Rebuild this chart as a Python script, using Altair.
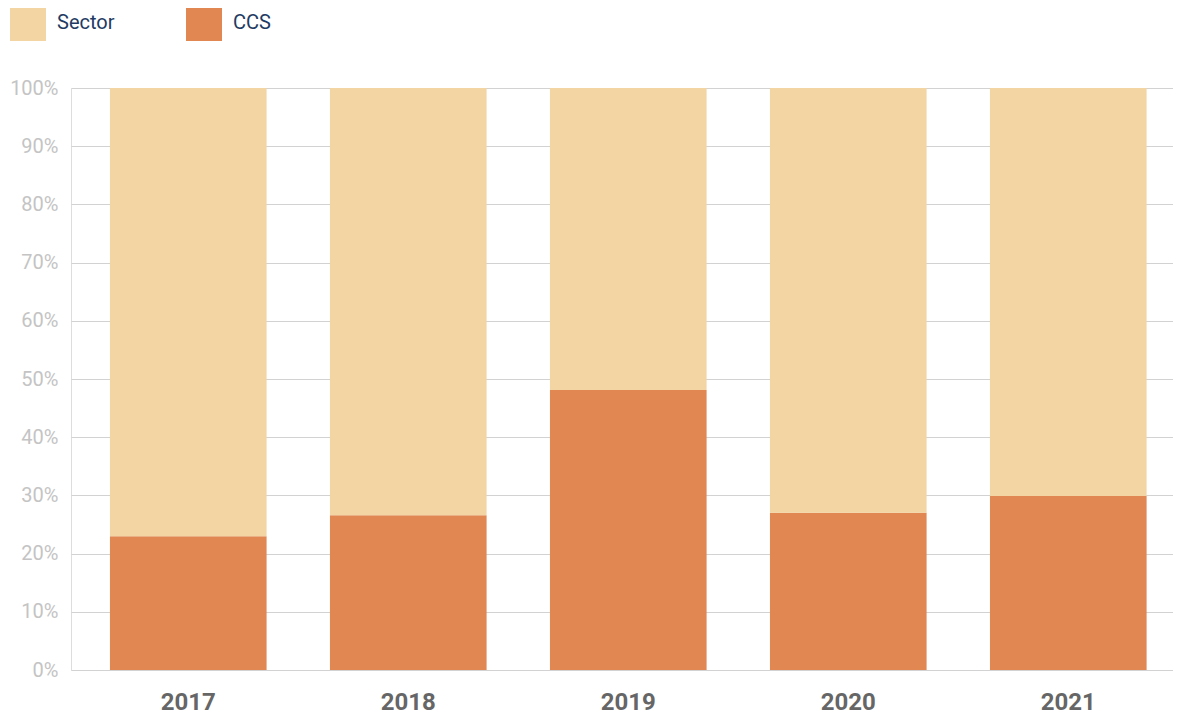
import altair as alt
import pandas as pd

years = ["2017", "2018", "2019", "2020", "2021"]
ccs = [0.230, 0.266, 0.481, 0.270, 0.299]
sector = [round(1 - v, 3) for v in ccs]
series = ["Sector", "CCS"]
colors = ["#F2D5A2", "#E18752"]

rows = []
for y, c, s in zip(years, ccs, sector):
    rows.append({"year": y, "series": "CCS", "value": c, "ord": 0})
    rows.append({"year": y, "series": "Sector", "value": s, "ord": 1})
df = pd.DataFrame(rows)

chart = alt.Chart(df).mark_bar().encode(
    x=alt.X("year:N", sort=years, title=None,
            scale=alt.Scale(paddingInner=0.288, paddingOuter=0.1485, align=0.596),
            axis=alt.Axis(labelAngle=0, labelFontSize=24, labelFontWeight="bold",
                          labelColor="#666666", labelPadding=20, ticks=False, tickSize=0,
                          domain=False, grid=False, labelFont="Roboto")),
    y=alt.Y("value:Q", stack="zero", title=None,
            scale=alt.Scale(domain=[0, 1], nice=False),
            axis=alt.Axis(format=".0%", values=[i / 10 for i in range(11)],
                          labelFontSize=20, labelColor="#C4C4C4", labelPadding=13,
                          ticks=False, tickSize=0, domain=False, grid=True,
                          gridColor="#D2D2D2", gridWidth=1, labelFont="Roboto")),
    color=alt.Color("series:N", scale=alt.Scale(domain=series, range=colors),
                    legend=alt.Legend(title=None, orient="none", legendX=-61, legendY=-83,
                                      direction="horizontal", symbolType="square",
                                      symbolSize=1296, symbolStrokeWidth=0,
                                      symbolOpacity=1, labelFontSize=20,
                                      labelColor="#1F3B63", labelFont="Roboto",
                                      labelOffset=11, columnPadding=71, padding=0)),
    order=alt.Order("ord:Q"),
).properties(
    width=1102, height=582,
    autosize=alt.AutoSizeParams(type="none"),
    padding={"left": 63, "top": 80, "right": 0, "bottom": 46},
).configure_view(stroke=None).configure(font="Roboto")

chart.save("out.html", embed_options={"renderer": "svg", "actions": False})
